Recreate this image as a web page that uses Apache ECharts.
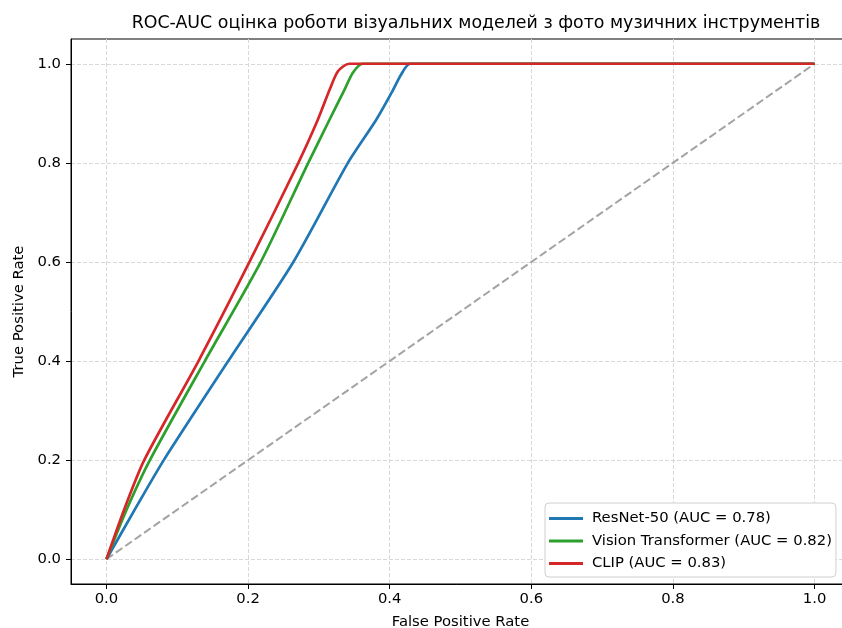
<!DOCTYPE html>
<html>
<head>
<meta charset="utf-8">
<script src="https://cdn.jsdelivr.net/npm/echarts@6/dist/echarts.min.js"></script>
<style>
  html, body { margin: 0; padding: 0; background: #fff; }
  #main { width: 842px; height: 628px; }
</style>
</head>
<body>
<div id="main"></div>
<script>
var tickValues = [0, 0.2, 0.4, 0.6, 0.8, 1.0];

// ROC points (fpr, tpr)
var resnetPts = [[0, 0], [0.040, 0.1], [0.081, 0.2], [0.172, 0.4], [0.264, 0.6], [0.341, 0.8], [0.381, 0.887], [0.404, 0.945], [0.416, 0.978], [0.429, 1.0], [1.0, 1.0]];
var vitPts = [[0, 0], [0.0285, 0.1], [0.0614, 0.2], [0.139, 0.4], [0.218, 0.6], [0.285, 0.8], [0.315, 0.887], [0.337, 0.95], [0.348, 0.982], [0.362, 1.0], [1.0, 1.0]];
var clipPts = [[0, 0], [0.025, 0.1], [0.0534, 0.2], [0.130, 0.4], [0.202, 0.6], [0.271, 0.8], [0.2985, 0.887], [0.315, 0.947], [0.327, 0.985], [0.343, 1.0], [1.0, 1.0]];
var chancePts = [[0, 0], [1, 1]];

var names = ['ResNet-50 (AUC = 0.78)', 'Vision Transformer (AUC = 0.82)', 'CLIP (AUC = 0.83)'];
var colors = ['#1f77b4', '#2ca02c', '#d62728'];

var font = 'DejaVu Sans';

function axisCfg(name, isY) {
  return {
    type: 'value',
    min: -0.05,
    max: 1.05,
    name: name,
    nameLocation: 'middle',
    nameGap: isY ? 42 : 31,
    nameTextStyle: { fontFamily: font, fontSize: 14.8, color: '#000' },
    axisLine: { show: true, onZero: false, lineStyle: { color: '#000', width: 1 } },
    axisTick: { show: true, length: 5, customValues: tickValues, lineStyle: { color: '#000', width: 1 } },
    axisLabel: {
      customValues: tickValues,
      margin: isY ? 10 : 8,
      fontFamily: font, fontSize: 14.8, color: '#000',
      formatter: function (v) { return v.toFixed(1); }
    },
    splitLine: { show: true, lineStyle: { color: '#d8d8d8', width: 1, type: [4, 2] } }
  };
}

var myChart = echarts.init(document.getElementById('main'));

var option = {
  animation: false,
  backgroundColor: '#fff',
  title: {
    text: 'ROC-AUC оцінка роботи візуальних моделей з фото музичних інструментів',
    left: 471, top: 10, textAlign: 'center',
    textStyle: { fontFamily: font, fontSize: 17.4, fontWeight: 'normal', color: '#000' }
  },
  grid: {
    left: 71, top: 39, width: 779, bottom: 44,
    outerBoundsMode: 'none',
    containLabel: false,
    show: true, borderColor: '#000', borderWidth: 1, backgroundColor: 'transparent'
  },
  xAxis: axisCfg('False Positive Rate', false),
  yAxis: axisCfg('True Positive Rate', true),
  legend: {
    orient: 'vertical',
    left: 545, top: 503,
    data: names,
    icon: 'rect',
    itemWidth: 34, itemHeight: 3,
    itemGap: 7.5,
    padding: [8, 4, 6, 4],
    backgroundColor: '#fff',
    borderColor: '#d0d0d0', borderWidth: 1, borderRadius: 4,
    textStyle: { fontFamily: font, fontSize: 14.8, color: '#000', lineHeight: 15, padding: [0, 0, 0, 4] }
  },
  series: [
    {
      name: names[0], type: 'line', data: resnetPts, showSymbol: false,
      smooth: 0.25, color: colors[0],
      lineStyle: { width: 2.7, color: colors[0] }, z: 3
    },
    {
      name: names[1], type: 'line', data: vitPts, showSymbol: false,
      smooth: 0.25, color: colors[1],
      lineStyle: { width: 2.7, color: colors[1] }, z: 4
    },
    {
      name: names[2], type: 'line', data: clipPts, showSymbol: false,
      smooth: 0.25, color: colors[2],
      lineStyle: { width: 2.7, color: colors[2] }, z: 5
    },
    {
      name: 'chance', type: 'line', data: chancePts, showSymbol: false,
      lineStyle: { width: 2, color: '#a3a3a3', type: [8, 3.5] }, z: 2
    }
  ]
};

myChart.setOption(option, true);
</script>
</body>
</html>
